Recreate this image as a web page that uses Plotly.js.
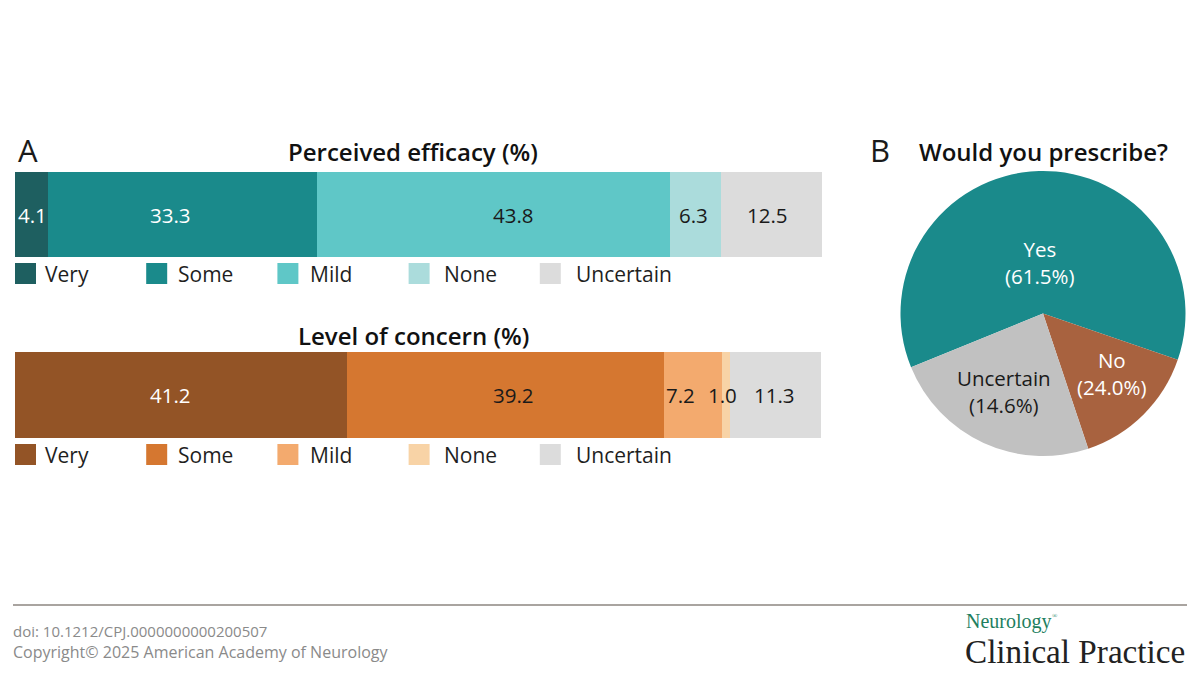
<!DOCTYPE html>
<html><head><meta charset="utf-8">
<script src="https://cdn.plot.ly/plotly-3.0.1.min.js"></script>
<style>html,body{margin:0;padding:0;background:#fff}</style></head>
<body><div id="chart" style="width:1200px;height:675px"></div>
<script>
const levels = ['Very','Some','Mild','None','Uncertain'];
const efficacy = [4.1,33.3,43.8,6.3,12.5];
const concern = [41.2,39.2,7.2,1.0,11.3];
const efficacyColors = ['#1e5f60','#1a8a8b','#5fc7c7','#abdcdc','#dcdcdc'];
const concernColors = ['#935426','#d57730','#f3aa6e','#f8d3a6','#dcdcdc'];
const efficacyTextColors = ['#fff','#fff','#1a1a1a','#1a1a1a','#1a1a1a'];
const concernTextColors = ['#fff','#1a1a1a','#1a1a1a','#1a1a1a','#1a1a1a'];
const efficacyLabelShift = [1,-12,20,-2,-4];
const concernLabelShift = [-11,8,-12,-3,-1];
const pieLabels = ['Yes','No','Uncertain'];
const pieSlices = [61.5,14.6,24.0];
const pieText = ['Yes<br>(61.5%)','No<br>(24.0%)','Uncertain<br>(14.6%)'];
const pieColors = ['#1a8a8b','#a8623f','#c1c1c1'];
const pieTextColors = ['#fff','#fff','#1a1a1a'];
const pieTextX = [1040,1112,1004];
const pieTextY = [262,373,391];
const legendTextX = [43,176,308,442,574];

const FONT = '"Open Sans", sans-serif';
const SERIF = '"Liberation Serif", serif';
const px = x => x/1200, py = y => 1-y/675;
const traces = [], shapes = [], annotations = [];
const text = (x,y,t,size,color,anchor,family,weight) => annotations.push({
  xref:'paper',yref:'paper',x:px(x),y:py(y),text:t,showarrow:false,xanchor:anchor,yanchor:'middle',
  font:{family:family||FONT,size:size,color:color,weight:weight||400}});

function panel(cat, values, colors, textColors, shifts, xa, ya, legendTop){
  let cum = 0;
  values.forEach((v,i)=>{
    traces.push({type:'bar',orientation:'h',name:levels[i],x:[v],y:[cat],xaxis:xa,yaxis:ya,
      marker:{color:colors[i],line:{width:0}},showlegend:false,hoverinfo:'x+name'});
    annotations.push({xref:xa,yref:ya,x:cum+v/2,y:cat,xshift:shifts[i],text:v.toFixed(1),showarrow:false,
      font:{family:FONT,size:20.5,color:textColors[i]},xanchor:'center',yanchor:'middle'});
    cum += v;
    const sx = 15+i*131.2;
    shapes.push({type:'rect',xref:'paper',yref:'paper',x0:px(sx),x1:px(sx+21),y0:py(legendTop),y1:py(legendTop+21),
      fillcolor:colors[i],line:{width:0}});
    text(legendTextX[i],legendTop+11,levels[i],21,'#1f1f1f','left');
  });
}
panel('Perceived efficacy',efficacy,efficacyColors,efficacyTextColors,efficacyLabelShift,'x','y',263);
panel('Level of concern',concern,concernColors,concernTextColors,concernLabelShift,'x2','y2',444);

traces.push({type:'pie',labels:pieLabels,values:pieSlices,textinfo:'none',sort:false,direction:'clockwise',
  rotation:-112.2,domain:{x:[px(1043-142.5),px(1043+142.5)],y:[py(313.5+142.5),py(313.5-142.5)]},
  marker:{colors:pieColors,line:{width:0}},showlegend:false,hoverinfo:'label+percent'});
pieText.forEach((t,i)=>text(pieTextX[i],pieTextY[i],t,20.5,pieTextColors[i],'center'));

const hidden = {visible:false,fixedrange:true};
text(413,152,'Perceived efficacy (%)',24,'#111','center',FONT,600);
text(413,335.5,'Level of concern (%)',24,'#111','center',FONT,600);
text(1043,152,'Would you prescribe?',24,'#111','center',FONT,600);
text(16,150,'A',31,'#1a1a1a','left');
text(868,150,'B',31,'#1a1a1a','left');
text(11,631,'doi: 10.1212/CPJ.0000000000200507',15,'#8a8a8a','left');
text(11,652,'Copyright© 2025 American Academy of Neurology',16,'#8a8a8a','left');
text(964,621.5,'Neurology',20,'#1f7f5f','left',SERIF);
text(1050,616,'®',7,'#1f7f5f','left',SERIF);
text(963,651,'Clinical Practice',33.2,'#222','left',SERIF);
shapes.push({type:'line',xref:'paper',yref:'paper',x0:px(13),x1:px(1187),y0:py(605),y1:py(605),line:{color:'#8c8681',width:1.6}});

const layout = {width:1200,height:675,margin:{l:0,r:0,t:0,b:0,pad:0,autoexpand:false},paper_bgcolor:'#fff',plot_bgcolor:'#fff',
  barmode:'stack',bargap:0,showlegend:false,
  xaxis:Object.assign({domain:[px(15),px(822)],range:[0,100],anchor:'y'},hidden),
  yaxis:Object.assign({domain:[py(257),py(172)],anchor:'x',type:'category'},hidden),
  xaxis2:Object.assign({domain:[px(15),px(822)],range:[0,100],anchor:'y2'},hidden),
  yaxis2:Object.assign({domain:[py(438),py(352)],anchor:'x2',type:'category'},hidden),
  shapes,annotations};
Plotly.newPlot('chart',traces,layout,{displayModeBar:false,staticPlot:true});
</script></body></html>
